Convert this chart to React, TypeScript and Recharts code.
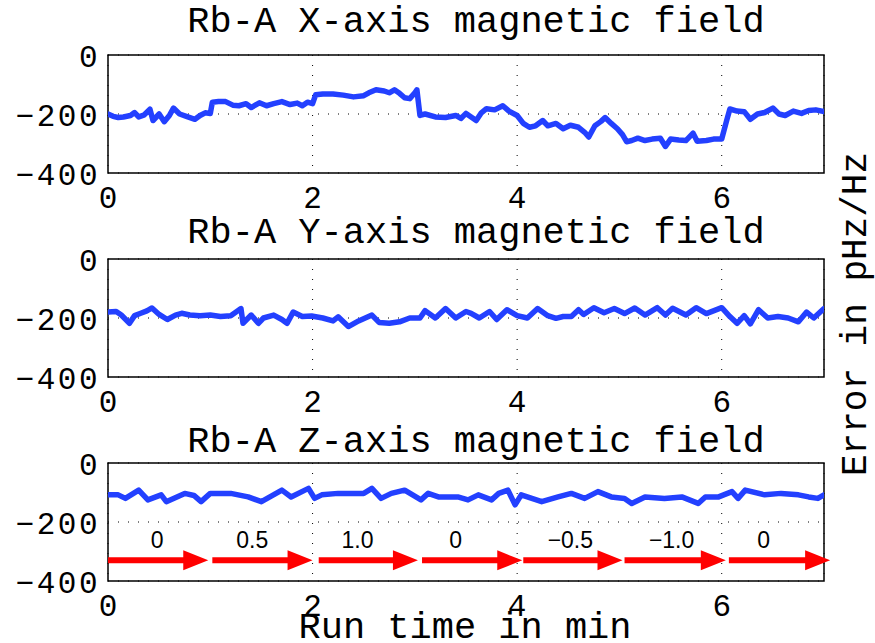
import React from 'react'
import {
    LineChart,
    Line,
    XAxis,
    YAxis,
    CartesianGrid,
    ReferenceArea,
    ReferenceLine,
    ReferenceDot,
} from 'recharts'

// X-axis field (run time in min, error in pHz/Hz)
const xTimes = [0, 0.05, 0.1, 0.15, 0.22, 0.26, 0.3, 0.35, 0.41, 0.44, 0.5, 0.55, 0.6, 0.64, 0.7, 0.78, 0.85, 0.9, 0.95, 1.0,
    1.02, 1.08, 1.15, 1.22, 1.28, 1.35, 1.4, 1.48, 1.55, 1.62, 1.7, 1.78, 1.85, 1.9, 1.95, 2.0,
    2.03, 2.1, 2.2, 2.3, 2.4, 2.5, 2.55, 2.62, 2.7, 2.75, 2.8, 2.85, 2.9, 2.95, 3.0, 3.02,
    3.05, 3.1, 3.2, 3.3, 3.4, 3.45, 3.5, 3.55, 3.6, 3.65, 3.7, 3.78, 3.86, 3.92, 4.0,
    4.06, 4.12, 4.18, 4.25, 4.3, 4.38, 4.45, 4.52, 4.6, 4.66, 4.7, 4.76, 4.82, 4.86, 4.92, 4.98, 5.03,
    5.07, 5.12, 5.18, 5.25, 5.32, 5.4, 5.45, 5.5, 5.58, 5.65, 5.72, 5.76, 5.85, 5.92, 6.0,
    6.05, 6.08, 6.15, 6.22, 6.28, 6.35, 6.42, 6.5, 6.56, 6.62, 6.7, 6.78, 6.85, 6.92, 7.0]
const xField = [-200, -208, -212, -210, -205, -195, -210, -204, -184, -222, -200, -226, -205, -180, -200, -210, -218, -205, -196, -198,
    -160, -158, -158, -170, -172, -165, -178, -162, -172, -165, -158, -168, -163, -172, -160, -165,
    -135, -132, -132, -136, -142, -138, -128, -118, -122, -128, -118, -130, -145, -148, -128, -118,
    -205, -200, -210, -212, -205, -215, -198, -210, -222, -196, -182, -186, -172, -190, -205,
    -232, -245, -240, -222, -240, -232, -250, -238, -245, -262, -278, -240, -225, -212, -232, -250, -270,
    -294, -290, -282, -290, -285, -282, -310, -285, -288, -290, -265, -292, -290, -285, -285,
    -220, -183, -190, -192, -218, -200, -195, -180, -200, -205, -190, -198, -188, -186, -192]

// Y-axis field
const yTimes = [0, 0.08, 0.13, 0.21, 0.26, 0.32, 0.38, 0.43, 0.5, 0.58, 0.66, 0.72, 0.8, 0.9, 1.0, 1.1, 1.2, 1.3, 1.32,
    1.4, 1.47, 1.52, 1.62, 1.7, 1.75, 1.81, 1.9, 1.99, 2.1, 2.2, 2.25, 2.35, 2.45, 2.58, 2.65, 2.75, 2.85, 2.95,
    3.05, 3.1, 3.2, 3.3, 3.4, 3.5, 3.55, 3.63, 3.73, 3.8, 3.9, 4.0, 4.1, 4.2, 4.3, 4.38, 4.45, 4.53, 4.6, 4.65,
    4.75, 4.85, 4.95, 5.05, 5.15, 5.25, 5.37, 5.45, 5.52, 5.65, 5.75, 5.85, 6.0, 6.08, 6.15, 6.22, 6.28, 6.36,
    6.45, 6.55, 6.65, 6.75, 6.83, 6.9, 7.0]
const yField = [-180, -178, -190, -218, -192, -184, -176, -166, -188, -205, -190, -184, -190, -192, -190, -195, -192, -168, -218,
    -190, -218, -200, -190, -205, -218, -180, -195, -193, -200, -210, -196, -229, -210, -190, -215, -218, -213, -200,
    -200, -175, -200, -168, -200, -178, -184, -200, -178, -205, -172, -192, -200, -168, -192, -201, -195, -195, -172, -188,
    -165, -182, -168, -185, -166, -190, -165, -190, -167, -190, -165, -185, -165, -195, -218, -192, -220, -172,
    -200, -195, -200, -213, -180, -200, -168]

// Z-axis field
const zTimes = [0, 0.1, 0.17, 0.3, 0.39, 0.52, 0.57, 0.75, 0.84, 0.91, 1.0, 1.2, 1.37, 1.5, 1.7, 1.79, 1.96, 2.02, 2.09,
    2.25, 2.5, 2.58, 2.67, 2.77, 2.9, 3.06, 3.13, 3.23, 3.42, 3.52, 3.62, 3.75, 3.82, 3.91, 3.98, 4.04, 4.24,
    4.4, 4.53, 4.66, 4.79, 4.92, 5.05, 5.12, 5.25, 5.44, 5.61, 5.77, 5.84, 5.97, 6.1, 6.16, 6.23, 6.42, 6.58,
    6.75, 6.85, 6.94, 7.0]
const zField = [-108, -108, -120, -92, -125, -108, -131, -103, -110, -131, -103, -103, -115, -131, -92, -115, -86, -120, -108,
    -103, -103, -86, -120, -103, -92, -125, -103, -115, -115, -125, -108, -125, -103, -92, -142, -108, -131,
    -115, -103, -120, -97, -115, -120, -137, -115, -120, -115, -137, -115, -115, -97, -120, -92, -108, -103,
    -108, -115, -120, -108]

// current steps shown as arrows in the Z panel
const arrowStart = [0, 1.02, 2.06, 3.07, 4.06, 5.05, 6.07]
const arrowEnd = [0.98, 2.0, 3.03, 4.05, 5.03, 6.04, 7.06]
const arrowLabels = ['0', '0.5', '1.0', '0', '\u22120.5', '\u22121.0', '0']
const labelPos = [0.48, 1.41, 2.44, 3.4, 4.52, 5.51, 6.41]
const arrowLevel = -330
const labelLevel = -262

const xTicks = [0, 2, 4, 6]
const yTicks = [-400, -200, 0]

const titles = ['Rb-A X-axis magnetic field', 'Rb-A Y-axis magnetic field', 'Rb-A Z-axis magnetic field']

const mono = "'Liberation Mono', 'Courier New', monospace"
const blue = '#2340ff'

const toRows = (t: number[], v: number[]) => t.map((tt, i) => ({ t: tt, v: v[i] }))

const XTick = (props: any) => {
    const { x, y, payload } = props
    return (
        <text x={x} y={y + 35} textAnchor="middle" fontFamily={mono} fontSize={31} fill="#000">
            {payload.value}
        </text>
    )
}

const YTick = (props: any) => {
    const { x, y, payload } = props
    const s = String(payload.value).replace('-', '\u2212')
    return (
        <text x={x - 8} y={y + 12} textAnchor="end" fontFamily={mono} fontSize={31} letterSpacing={2.5} fill="#000">
            {s}
        </text>
    )
}

const Arrow = (props: any) => {
    const { x1, y1, x2 } = props
    const head = 25
    return (
        <g>
            <line x1={x1} y1={y1} x2={x2 - head + 4} y2={y1} stroke="#ff0000" strokeWidth={6} />
            <polygon points={`${x2 - head},${y1 - 10} ${x2},${y1} ${x2 - head},${y1 + 10}`} fill="#ff0000" />
        </g>
    )
}

const panelTops = [35, 239, 443]

const Panel = ({ rows, top, extra }: { rows: any[]; top: number; extra?: boolean }) => (
    <div style={{ position: 'absolute', left: 0, top }}>
        <LineChart width={875} height={198} data={rows} margin={{ top: 20, right: 51, bottom: 0, left: 8 }}>
            <CartesianGrid stroke="#000" strokeDasharray="1 9" strokeWidth={1} />
            <XAxis
                dataKey="t"
                type="number"
                domain={[0, 7]}
                ticks={xTicks}
                allowDataOverflow
                height={60}
                tickSize={0}
                tickMargin={0}
                axisLine={false}
                tick={<XTick />}
            />
            <YAxis
                type="number"
                domain={[-400, 0]}
                ticks={yTicks}
                allowDataOverflow
                width={100}
                tickSize={0}
                tickMargin={0}
                axisLine={false}
                tick={<YTick />}
            />
            <ReferenceArea x1={0} x2={7} y1={-400} y2={0} fill="none" stroke="#000" strokeWidth={1.5} fillOpacity={0} />
            {extra && arrowStart.map((s, i) => (
                <ReferenceLine
                    key={'a' + i}
                    segment={[{ x: s, y: arrowLevel }, { x: arrowEnd[i], y: arrowLevel }]}
                    ifOverflow="visible"
                    shape={<Arrow />}
                />
            ))}
            {extra && labelPos.map((p, i) => (
                <ReferenceDot
                    key={'l' + i}
                    x={p}
                    y={labelLevel}
                    ifOverflow="visible"
                    shape={(sp: any) => (
                        <text x={sp.cx} y={sp.cy + 8} textAnchor="middle" fontFamily="'Liberation Sans', Arial, sans-serif" fontSize={23} fill="#000">
                            {arrowLabels[i]}
                        </text>
                    )}
                />
            ))}
            <Line
                type="linear"
                dataKey="v"
                stroke={blue}
                strokeWidth={5.5}
                strokeLinejoin="round"
                strokeLinecap="round"
                dot={false}
                isAnimationActive={false}
            />
        </LineChart>
    </div>
)

const App = () => {
    const rows = [toRows(xTimes, xField), toRows(yTimes, yField), toRows(zTimes, zField)]
    const titleBase = [32, 243, 452]
    return (
        <div style={{ position: 'absolute', left: 0, top: 0, width: 875, height: 643, background: '#fff', overflow: 'hidden' }}>
            {rows.map((r, i) => (
                <Panel key={i} rows={r} top={panelTops[i]} extra={i === 2} />
            ))}
            <svg width={875} height={643} style={{ position: 'absolute', left: 0, top: 0, pointerEvents: 'none' }}>
                {titles.map((t, i) => (
                    <text key={t} x={476} y={titleBase[i]} textAnchor="middle" fontFamily={mono} fontSize={37} fill="#000">
                        {t}
                    </text>
                ))}
                <text transform="translate(866,314) rotate(-90)" textAnchor="middle" fontFamily={mono} fontSize={36} fill="#000">
                    Error in pHz/Hz
                </text>
                <text x={465} y={638} textAnchor="middle" fontFamily={mono} fontSize={37} fill="#000">
                    Run time in min
                </text>
            </svg>
        </div>
    )
}

export default App
